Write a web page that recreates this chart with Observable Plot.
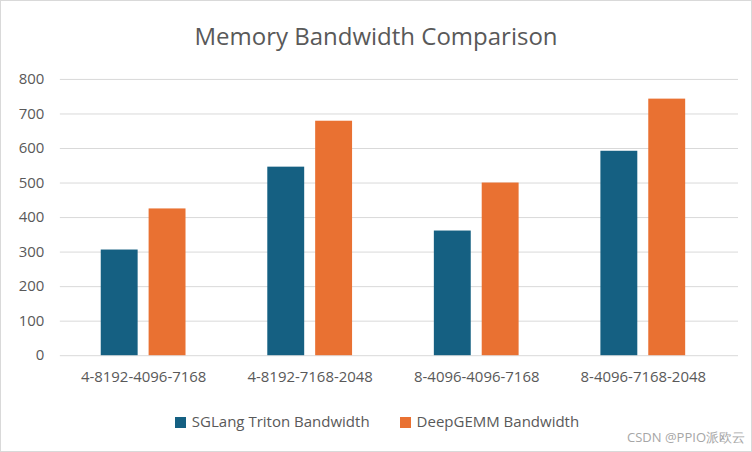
<!DOCTYPE html>
<html><head><meta charset="utf-8">
<script src="https://cdn.jsdelivr.net/npm/d3@7"></script>
<script src="https://cdn.jsdelivr.net/npm/@observablehq/plot@0.6"></script>
<style>
body{margin:0;background:#fff;font-family:"Open Sans",sans-serif;}
#wrap{width:752px;height:452px;position:relative;box-sizing:border-box;border:1px solid #d9d9d9;}
#title{height:55px;line-height:70px;text-align:center;font-size:24px;color:#595959;}
#legend{position:absolute;top:410px;left:0;width:752px;text-align:center;font-size:15px;color:#595959;}
#legend span.sw{display:inline-block;width:11px;height:11px;margin-right:6px;vertical-align:-1px;}
#wm{position:absolute;right:6px;bottom:4px;font-size:13px;color:#a6a6a6;}
</style></head><body>
<div id="wrap">
<div id="title">Memory Bandwidth Comparison</div>
<div id="chart"></div>
<div id="legend"><span class="sw" style="background:#156082"></span>SGLang Triton Bandwidth<span style="display:inline-block;width:30px"></span><span class="sw" style="background:#e97132"></span>DeepGEMM Bandwidth</div>
<div id="wm">CSDN @PPIO派欧云</div>
</div>
<script>
const categories = ["4-8192-4096-7168","4-8192-7168-2048","8-4096-4096-7168","8-4096-7168-2048"];
const sglang = [306, 546, 361, 592];
const deepgemm = [425, 679, 500, 743];
const yTicks = [0,100,200,300,400,500,600,700,800];
const a = categories.map((c,i)=>({c, v:sglang[i]}));
const b = categories.map((c,i)=>({c, v:deepgemm[i]}));
const chart = Plot.plot({
  width: 752, height: 345,
  marginTop: 23, marginBottom: 45, marginLeft: 59, marginRight: 25,
  style: {fontFamily:"Open Sans, sans-serif", fontSize:"15px", color:"#595959"},
  x: {domain: categories, padding: 0, label: null, tickSize: 0, tickPadding: 16},
  y: {domain: [0,800], ticks: yTicks, label: null, tickSize: 0, tickPadding: 16},
  marks: [
    Plot.ruleY(yTicks, {stroke:"#d9d9d9", insetRight:-12}),
    Plot.barY(a, {x:"c", y:"v", fill:"#156082", insetLeft:65, insetRight:65, dx:-24}),
    Plot.barY(b, {x:"c", y:"v", fill:"#e97132", insetLeft:65, insetRight:65, dx:24})
  ]
});
document.getElementById("chart").appendChild(chart);
</script>
</body></html>
